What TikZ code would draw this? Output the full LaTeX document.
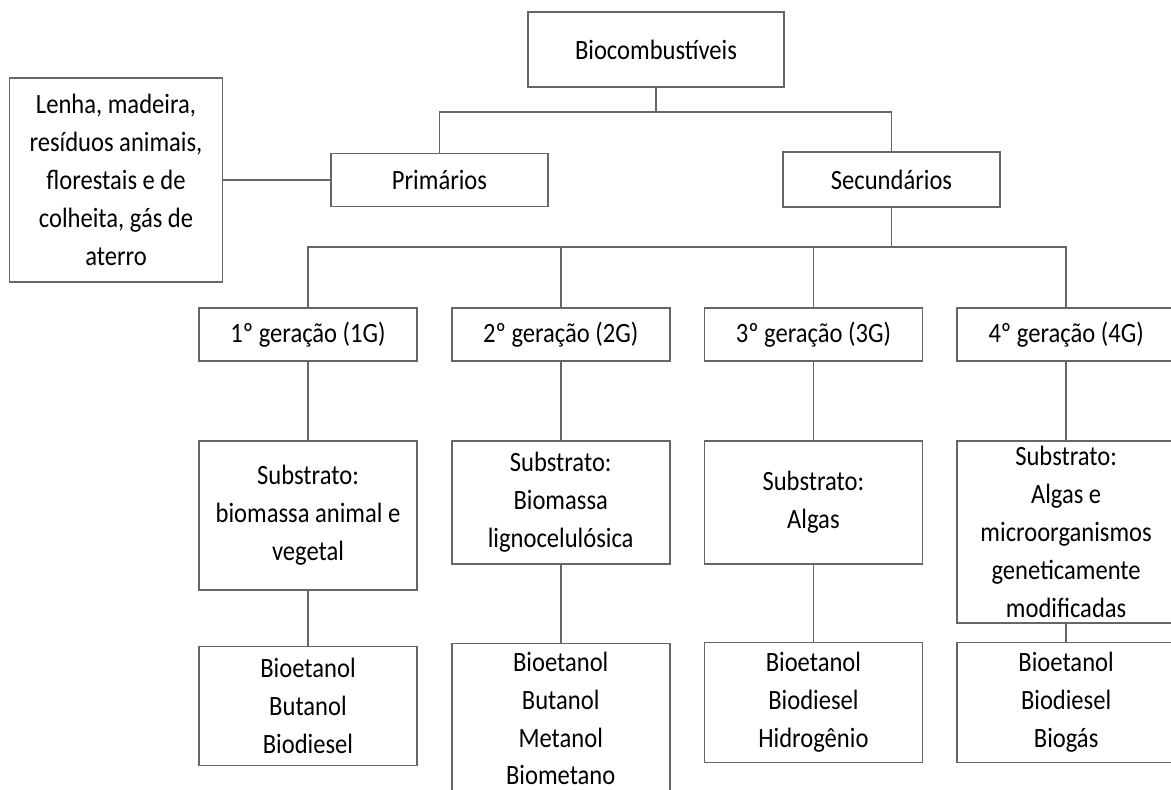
\documentclass[tikz,border=0pt]{standalone}
\usepackage{fontspec}
\setmainfont{Carlito}[FakeStretch=0.88]
\usetikzlibrary{positioning}

\begin{document}
\begin{tikzpicture}[
    x=0.02cm, y=-0.02cm,
    font=\fontsize{15.9}{21.6}\selectfont,
    node distance=1.56cm and 0.66cm,
    box/.style={rectangle, draw=black!60, line width=1pt, text=black, align=center, minimum width=4.36cm, inner xsep=3pt, inner ysep=0pt},
    link/.style={draw=black!60, line width=1pt}
]
\useasboundingbox (0,0) rectangle (1171,789);

% Top levels
\node[box, minimum width=5.12cm, minimum height=1.5cm] (Bio) at (656,49.5) {Biocombustíveis};
\node[box, minimum width=4.34cm, minimum height=1.06cm] (Prim) at (439.5,180) {Primários};
\node[box, minimum width=4.34cm, minimum height=1.1cm] (Sec) at (891.5,179.5) {Secundários};
\node[box, minimum width=4.26cm, minimum height=4.08cm] (Lenha) at (116,180) {Lenha, madeira,\\ resíduos animais,\\ florestais e de\\ colheita, gás de\\ aterro};

% Generations
\node[box, minimum height=1.06cm] (G1) at (308,334.5) {1º geração (1G)};
\node[box, minimum height=1.06cm, right=of G1] (G2) {2º geração (2G)};
\node[box, minimum height=1.06cm, right=of G2] (G3) {3º geração (3G)};
\node[box, minimum height=1.06cm, right=of G3] (G4) {4º geração (4G)};

% Substrates
\node[box, minimum height=2.98cm, below=of G1] (S1) {Substrato:\\ biomassa animal e\\ vegetal};
\node[box, minimum height=2.46cm, below=of G2] (S2) {Substrato:\\ Biomassa\\ lignocelulósica};
\node[box, minimum height=2.46cm, below=of G3] (S3) {Substrato:\\ Algas};
\node[box, minimum height=3.64cm, below=of G4] (S4) {Substrato:\\ Algas e\\ microorganismos\\ geneticamente\\ modificadas};

% Products
\node[box, minimum height=2.38cm, below=1.1cm of S1] (P1) {Bioetanol\\ Butanol\\ Biodiesel};
\node[box, minimum height=3cm, below=1.56cm of S2] (P2) {Bioetanol\\ Butanol\\ Metanol\\ Biometano};
\node[box, minimum height=2.4cm, below=1.54cm of S3] (P3) {Bioetanol\\ Biodiesel\\ Hidrogênio};
\node[box, minimum height=2.4cm, below=0.36cm of S4] (P4) {Bioetanol\\ Biodiesel\\ Biogás};

% Connectors
\coordinate (TopBus) at (656,112);
\coordinate (GenBus) at (891.5,247);
\draw[link] (Bio.south) -- (TopBus);
\draw[link] (Prim.north) |- (TopBus) -| (Sec.north);
\draw[link] (Lenha.east) -- (Prim.west);
\draw[link] (Sec.south) -- (GenBus);
\draw[link] (G1.north) |- (GenBus) -| (G4.north);
\draw[link] (G2.north) -- (G2.north |- GenBus);
\draw[link] (G3.north) -- (G3.north |- GenBus);
\foreach \n in {1,...,4} {
  \draw[link] (G\n) -- (S\n);
  \draw[link] (S\n) -- (P\n);
}

\end{tikzpicture}
\end{document}
